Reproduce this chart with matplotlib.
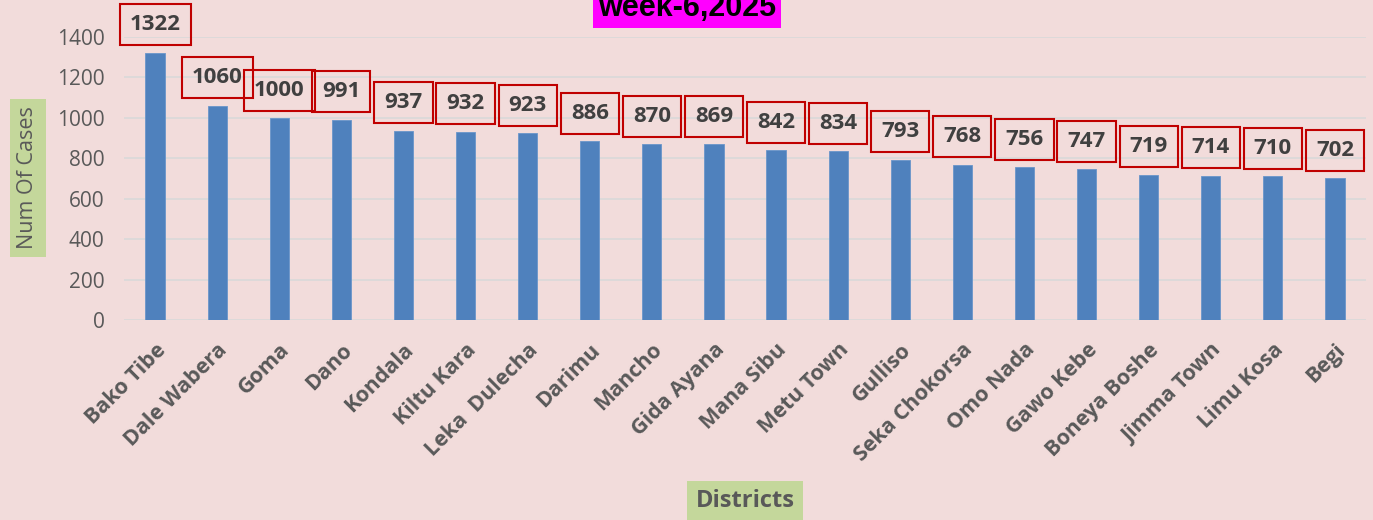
import matplotlib
matplotlib.use('Agg')
import matplotlib.pyplot as plt

districts = ["Bako Tibe", "Dale Wabera", "Goma", "Dano", "Kondala", "Kiltu Kara",
             "Leka  Dulecha", "Darimu", "Mancho", "Gida Ayana", "Mana Sibu",
             "Metu Town", "Gulliso", "Seka Chokorsa", "Omo Nada", "Gawo Kebe",
             "Boneya Boshe", "Jimma Town", "Limu Kosa", "Begi"]
cases = [1322, 1060, 1000, 991, 937, 932, 923, 886, 870, 869, 842,
         834, 793, 768, 756, 747, 719, 714, 710, 702]
yticks = [0, 200, 400, 600, 800, 1000, 1200, 1400]

bg = '#F2DCDB'
plt.rcParams['font.family'] = ['Open Sans', 'DejaVu Sans']

fig = plt.figure(figsize=(13.73, 5.2), dpi=100)
fig.patch.set_facecolor(bg)
ax = fig.add_axes([124 / 1373, 1 - 320 / 520, 1242 / 1373, 283 / 520])
ax.set_facecolor(bg)

x = list(range(len(districts)))
ax.bar(x, cases, width=0.31, color='#4F81BD', edgecolor='#6A95CA', linewidth=0.6, zorder=3)

for xi, v in zip(x, cases):
    ax.annotate(str(v), (xi, v), xytext=(0, 20), textcoords='offset points',
                ha='center', va='center', fontsize=16, fontweight='bold', color='#404040',
                bbox=dict(boxstyle='square,pad=0.45', fc='none', ec='#C00000', lw=1.5),
                zorder=5)

ax.set_xlim(-0.5, len(districts) - 0.5)
ax.set_ylim(0, 1400)
ax.set_yticks(yticks)
ax.set_xticks(x)
ax.set_xticklabels(districts, rotation=45, ha='right', rotation_mode='anchor',
                   fontsize=15.5, fontweight='bold', color='#595959')
ax.tick_params(axis='y', labelsize=15, labelcolor='#595959', length=0, pad=14)
ax.tick_params(axis='x', length=0, pad=14)
ax.grid(axis='y', color='#D9D9D9', linewidth=1.2, zorder=0)
for s in ax.spines.values():
    s.set_visible(False)

fig.text(28 / 1373, 1 - 178 / 520, 'Num Of Cases', rotation=90, ha='center', va='center',
         fontsize=15.5, color='#595959',
         bbox=dict(boxstyle='square,pad=0.35', fc='#C4D79B', ec='none'))
fig.text(745 / 1373, 1 - 501 / 520, 'Districts', ha='center', va='center',
         fontsize=17, fontweight='bold', color='#595959',
         bbox=dict(boxstyle='square,pad=0.35', fc='#C4D79B', ec='none'))
fig.text(687 / 1373, 1 - 16 / 520, 'week-6,2025', ha='center', va='baseline',
         fontsize=22, fontweight='bold', color='black', family='Liberation Sans',
         bbox=dict(boxstyle='square,pad=0.15', fc='#FF00FF', ec='none'))

fig.savefig('out.png', dpi=100, facecolor=bg)
